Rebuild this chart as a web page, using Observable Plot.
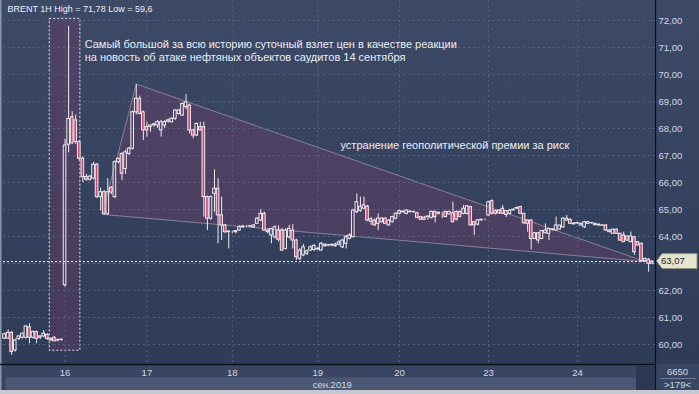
<!DOCTYPE html>
<html>
<head>
<meta charset="utf-8">
<script src="https://cdn.jsdelivr.net/npm/d3@7"></script>
<script src="https://cdn.jsdelivr.net/npm/@observablehq/plot@0.6"></script>
<style>
html, body { margin: 0; padding: 0; background: #2f3c58; }
#chart { position: relative; width: 699px; height: 394px; overflow: hidden;
  background: linear-gradient(#3c4967, #2e3b57); }
#chart svg { display: block; }
</style>
</head>
<body>
<div id="chart"></div>
<script>
// ---- data (hourly Brent candles) ----
const candleOpen = [
60.22,60.22,60.43,59.78,60.20,60.25,60.25,60.64,60.25,60.46,60.25,60.30,60.36,60.20,60.25,60.15,60.17,
62.20,67.40,68.42,68.30,67.49,66.88,66.20,66.10,66.14,66.66,65.46,65.64,64.84,65.80,65.46,66.75,67.06,66.50,67.06,67.25,
68.60,69.10,68.60,68.05,68.05,68.12,68.11,67.93,68.11,68.25,68.23,68.36,68.54,68.48,68.79,68.85,67.93,67.74,68.05,68.05,
65.46,64.66,65.58,65.77,64.78,64.41,64.16,64.16,64.16,64.22,64.34,64.37,64.37,64.34,64.47,64.59,64.84,64.22,64.04,63.97,
64.22,64.22,63.54,63.97,64.22,63.85,63.17,63.30,63.36,63.48,63.50,63.52,63.48,63.64,63.66,63.67,63.64,63.70,63.60,63.73,
63.91,63.97,64.90,64.95,65.03,65.11,64.55,64.59,64.47,64.53,64.66,64.41,64.53,64.66,64.84,64.90,64.84,64.92,64.90,64.86,
64.72,64.70,64.72,64.69,64.91,64.84,64.86,64.91,64.82,64.86,64.91,64.91,64.84,64.84,65.09,64.53,64.44,64.60,64.62,64.78,
65.31,64.94,64.86,65.03,64.80,64.84,64.97,65.03,65.09,64.84,64.59,64.59,63.91,64.12,63.91,64.12,64.10,64.24,64.22,64.26,
64.34,64.59,64.62,64.45,64.48,64.41,64.34,64.47,64.49,64.47,64.44,64.41,64.41,64.22,64.10,64.25,64.10,64.04,64.00,63.79,
63.97,63.79,63.73,63.09,63.14,62.99];
const candleHigh = [
60.42,60.54,60.48,60.20,60.32,60.42,60.70,60.77,60.50,60.50,60.32,60.52,60.40,60.25,60.28,60.20,60.20,
67.60,71.78,68.62,68.50,67.55,66.95,66.30,66.25,66.75,66.70,65.80,65.70,66.14,65.85,66.80,66.90,67.10,67.20,67.30,68.65,
69.63,69.20,68.65,68.23,68.12,68.20,68.30,68.30,68.30,68.35,68.40,68.70,68.70,68.95,69.26,68.90,67.95,68.20,68.23,68.23,
65.50,65.50,66.47,66.14,65.46,64.45,64.22,64.20,64.22,64.40,64.40,64.40,64.40,64.45,64.70,64.99,64.90,64.28,64.30,64.40,
64.40,64.30,64.30,64.41,64.44,63.90,63.55,63.70,63.50,63.65,63.70,63.58,63.78,63.72,63.70,63.72,63.75,63.85,63.90,64.04,
64.10,65.00,65.58,65.46,65.46,65.15,64.70,64.65,64.84,64.70,64.70,64.62,64.75,64.88,64.98,64.95,64.98,64.95,64.94,64.90,
64.75,64.74,64.76,64.94,64.94,64.90,64.90,64.94,64.94,65.27,64.95,64.95,65.15,65.15,65.12,64.56,64.62,64.64,64.65,65.30,
65.36,64.98,64.98,65.15,64.96,65.00,65.02,65.08,65.12,64.86,64.62,64.62,64.15,64.15,64.22,64.47,64.30,64.28,64.72,64.42,
64.70,64.78,64.65,64.50,64.52,64.50,64.56,64.55,64.52,64.49,64.46,64.43,64.44,64.25,64.28,64.28,64.12,64.16,64.02,64.16,
64.00,63.82,63.76,63.20,63.18,63.10];
const candleLow = [
60.18,60.18,59.60,59.72,60.15,60.20,60.20,60.03,60.20,60.03,60.18,60.25,60.15,60.12,60.10,60.10,60.12,
62.12,67.10,67.40,67.40,66.80,66.00,66.05,66.05,66.10,65.40,64.95,64.78,64.78,65.55,65.40,66.70,66.07,66.30,67.00,67.20,
68.50,68.50,67.56,67.68,67.86,68.05,68.00,67.68,68.00,68.20,68.20,68.30,68.50,68.45,68.70,67.80,67.62,67.70,67.90,64.72,
64.22,64.60,64.90,63.73,63.85,64.10,63.54,64.10,64.10,64.20,64.30,64.33,64.33,64.30,64.45,64.55,64.20,64.10,63.73,63.90,
63.80,63.45,63.50,63.90,63.54,63.11,63.10,63.25,63.30,63.45,63.45,63.50,63.45,63.60,63.62,63.62,63.60,63.65,63.55,63.54,
63.88,63.95,64.85,64.90,65.00,64.55,64.41,64.38,64.22,64.50,64.44,64.38,64.50,64.62,64.80,64.86,64.80,64.88,64.86,64.66,
64.60,64.60,64.60,64.65,64.50,64.80,64.66,64.70,64.80,64.50,64.58,64.70,64.80,64.80,64.38,64.04,64.40,64.56,64.58,64.75,
64.80,64.80,64.82,64.82,64.70,64.80,64.94,65.00,64.82,64.45,64.16,63.51,63.88,63.73,63.88,64.10,63.85,64.20,64.20,64.24,
64.30,64.56,64.45,64.42,64.46,64.38,64.30,64.44,64.46,64.40,64.38,64.38,64.20,64.14,64.08,64.08,63.82,63.77,63.82,63.77,
63.30,63.64,63.05,63.05,62.68,62.95];
const candleClose = [
60.38,60.43,59.72,60.15,60.30,60.40,60.67,60.25,60.46,60.21,60.30,60.40,60.21,60.15,60.12,60.17,60.18,
67.37,68.35,67.45,67.50,66.88,66.20,66.10,66.22,66.66,65.46,65.64,64.84,65.64,65.63,66.75,66.88,66.32,67.12,67.25,68.60,
69.10,68.54,67.93,67.93,68.11,68.15,68.23,68.23,68.23,68.30,68.36,68.67,68.67,68.91,68.97,67.93,67.74,68.17,67.93,65.46,
64.66,65.46,65.77,64.78,64.41,64.16,64.18,64.16,64.20,64.34,64.37,64.37,64.38,64.41,64.66,64.84,64.22,64.16,64.28,64.34,
63.88,63.48,64.22,64.28,63.85,63.23,63.48,63.60,63.45,63.60,63.65,63.55,63.73,63.70,63.68,63.69,63.70,63.78,63.85,63.97,
64.04,64.96,65.27,65.09,65.15,64.59,64.64,64.41,64.66,64.66,64.47,64.59,64.72,64.84,64.94,64.92,64.96,64.90,64.91,64.69,
64.62,64.62,64.74,64.91,64.72,64.88,64.86,64.72,64.91,64.53,64.62,64.72,65.03,65.12,64.41,64.41,64.60,64.62,64.62,65.27,
64.84,64.84,64.96,64.84,64.94,64.96,64.99,65.06,64.84,64.49,64.47,63.91,64.12,63.85,64.20,64.22,64.28,64.26,64.41,64.40,
64.66,64.66,64.47,64.48,64.50,64.47,64.53,64.53,64.50,64.42,64.41,64.40,64.22,64.16,64.25,64.10,63.85,63.79,63.85,64.00,
63.42,63.67,63.09,63.17,62.99,63.07];

const dayTickIndex = [17, 40, 64, 88, 111, 136, 161];   // first hourly bar of each day
const dayTickLabels = ["16", "17", "18", "19", "20", "23", "24"];
const priceTicks = [60, 61, 62, 63, 64, 65, 66, 67, 68, 69, 70, 71, 72];
const monthLabel = "сен.2019";
const lastPrice = 63.07;
const headerText = "BRENT 1H High = 71,78 Low = 59,6";
const spikeNote = ["Самый большой за всю историю суточный взлет цен в качестве реакции",
                   "на новость об атаке нефтяных объектов саудитов 14 сентября"];
const wedgeNote = "устранение геополитической премии за риск";
const triangleBar = [37, 27.4, 180];
const trianglePrice = [69.63, 64.82, 63.07];
const spikeBoxBars = [12.7, 21.3];
const spikeBoxPrices = [59.77, 72.06];
const footerInfo = ["6650", ">179<"];

// ---- build ----
const candles = candleOpen.map((o, i) => ({
  i, o, h: candleHigh[i], l: candleLow[i], c: candleClose[i],
  top: Math.max(o, candleClose[i]), bot: Math.min(o, candleClose[i]),
  down: candleClose[i] < o
}));
const tri = triangleBar.map((b, k) => ({x: b, y: trianglePrice[k]}));
const box = [{x1: spikeBoxBars[0], x2: spikeBoxBars[1], y1: spikeBoxPrices[0], y2: spikeBoxPrices[1]}];
const fmt = v => v.toFixed(2).replace(".", ",");
const grid = "#56637f";
const txt = "#d3d8e4";
const W = 0.37;

const plot = Plot.plot({
  width: 699, height: 394,
  marginLeft: 3, marginRight: 44, marginTop: 0, marginBottom: 30,
  x: {domain: [-0.3, 182.93], axis: null},
  y: {domain: [59.26, 72.74], axis: null},
  style: {background: "transparent", fontFamily: "Liberation Sans, Arial, sans-serif", fontSize: "10px"},
  marks: [
    Plot.line(tri, {x: "x", y: "y", curve: "linear-closed", fill: "rgba(116,60,104,0.36)", stroke: "#8a8099", strokeWidth: 1}),
    Plot.rect(box, {x1: "x1", x2: "x2", y1: "y1", y2: "y2", fill: "rgba(116,60,104,0.34)", stroke: "#e8e8f0", strokeWidth: 1, strokeDasharray: "2,2"}),
    Plot.ruleY(priceTicks, {stroke: grid, strokeDasharray: "2,3"}),
    Plot.ruleX(dayTickIndex, {stroke: grid, strokeDasharray: "2,3"}),
    Plot.ruleY([lastPrice], {stroke: "#f2f2f2", strokeDasharray: "2,2"}),
    Plot.ruleX(candles, {x: "i", y1: "l", y2: "bot", stroke: "#f3eaef", strokeWidth: 1}),
    Plot.ruleX(candles, {x: "i", y1: "top", y2: "h", stroke: "#f3eaef", strokeWidth: 1}),
    Plot.rect(candles, {x1: d => d.i - W, x2: d => d.i + W, y1: "bot", y2: "top",
      fill: d => d.down ? "#c94b72" : "none", stroke: "#f3eaef", strokeWidth: 1}),
    Plot.text([headerText], {frameAnchor: "top-left", dx: 4, dy: 8.5, lineAnchor: "middle", textAnchor: "start", fill: "#eef0f6", fontSize: 9}),
    Plot.text([spikeNote[0]], {x: () => 22.5, y: () => 71.11, textAnchor: "start", fill: "#eceef4", fontSize: 11}),
    Plot.text([spikeNote[1]], {x: () => 22.5, y: () => 70.63, textAnchor: "start", fill: "#eceef4", fontSize: 11}),
    Plot.text([wedgeNote], {x: () => 94.4, y: () => 67.37, textAnchor: "start", fill: "#eceef4", fontSize: 11}),
    Plot.text(priceTicks.filter(d => Math.abs(d - lastPrice) > 0.3), {y: d => d, frameAnchor: "right", dx: 3, textAnchor: "start", text: d => fmt(d), fill: txt, fontSize: 9.5}),
    Plot.text(dayTickIndex, {x: d => d, frameAnchor: "bottom", dy: 8.5, lineAnchor: "middle", text: (d, k) => dayTickLabels[k], fill: txt, fontSize: 9.5}),
    Plot.text([monthLabel], {x: () => dayTickIndex[3], frameAnchor: "bottom", dy: 20, dx: -5, lineAnchor: "middle", textAnchor: "start", fill: txt, fontSize: 9.5}),
    Plot.text([footerInfo[0]], {frameAnchor: "bottom-right", dx: 22, dy: 7.5, lineAnchor: "middle", textAnchor: "middle", fill: txt, fontSize: 9.5}),
    Plot.text([footerInfo[1]], {frameAnchor: "bottom-right", dx: 22, dy: 20.5, lineAnchor: "middle", textAnchor: "middle", fill: txt, fontSize: 9.5})
  ]
});

document.getElementById("chart").appendChild(plot);

// ---- window chrome (panels, frame lines) ----
const svg = d3.select(plot);
const chrome = svg.insert("g", ":first-child");
chrome.append("rect").attr("x", 0).attr("y", 364).attr("width", 699).attr("height", 30).attr("fill", "#394663");
chrome.append("rect").attr("x", 6).attr("y", 377.5).attr("width", 630).attr("height", 12.5).attr("fill", "#4a5875");
chrome.append("rect").attr("x", 636).attr("y", 366).attr("width", 19).attr("height", 24).attr("fill", "#2c3853");
chrome.append("rect").attr("x", 0).attr("y", 390).attr("width", 699).attr("height", 4).attr("fill", "#c3c8d1");
chrome.append("rect").attr("x", 0).attr("y", 0).attr("width", 1.5).attr("height", 390).attr("fill", "#8c94a8");
chrome.append("line").attr("x1", 0).attr("x2", 655).attr("y1", 364.5).attr("y2", 364.5).attr("stroke", "#0d1019").attr("stroke-width", 1.5);
chrome.append("line").attr("x1", 655.5).attr("x2", 655.5).attr("y1", 0).attr("y2", 390).attr("stroke", "#0d1019").attr("stroke-width", 1.2);
chrome.append("line").attr("x1", 660).attr("x2", 696).attr("y1", 378.5).attr("y2", 378.5).attr("stroke", "#6d7a96");

// ---- last price badge ----
const yL = plot.scale("y").apply(lastPrice);
const badge = svg.append("g");
badge.append("path")
  .attr("d", `M656.5,${yL} L662,${yL - 7.5} L697,${yL - 7.5} L697,${yL + 7.5} L662,${yL + 7.5} Z`)
  .attr("fill", "#e5e5cf").attr("stroke", "#8e8e7a");
badge.append("text").attr("x", 661).attr("y", yL).attr("dy", "0.35em")
  .attr("text-anchor", "start").attr("font-size", 9.5).attr("fill", "#222").text(fmt(lastPrice));
</script>
</body>
</html>
